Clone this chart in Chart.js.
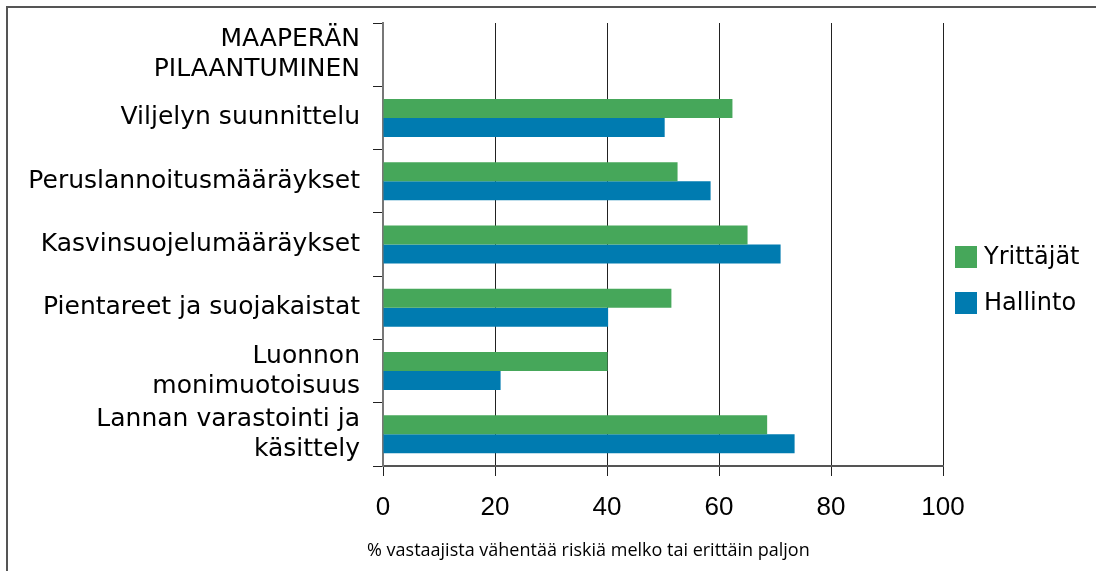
<!DOCTYPE html>
<html>
<head>
<meta charset="utf-8">
<script src="https://cdn.jsdelivr.net/npm/chart.js@4.4.1/dist/chart.umd.min.js"></script>
<style>
  html, body { margin: 0; padding: 0; background: #fff; overflow: hidden; }
  #wrap { position: relative; width: 1096px; height: 571px; }
  #frame { position: absolute; left: 6px; top: 6px; width: 2000px; height: 2000px;
           border-left: 2px solid #555; border-top: 2px solid #555; pointer-events: none; }
  canvas { position: absolute; left: 0; top: 0; }
</style>
</head>
<body>
<div id="wrap">
  <canvas id="c" width="1096" height="571"></canvas>
  <div id="frame"></div>
</div>
<script>
const categories = [
  ['MAAPERÄN', 'PILAANTUMINEN'],
  'Viljelyn suunnittelu',
  'Peruslannoitusmääräykset',
  'Kasvinsuojelumääräykset',
  'Pientareet ja suojakaistat',
  ['Luonnon', 'monimuotoisuus'],
  ['Lannan varastointi ja', 'käsittely']
];
const seriesNames = ['Yrittäjät', 'Hallinto'];
const yrittajat = [null, 62.4, 52.6, 65.1, 51.5, 40.1, 68.6];
const hallinto  = [null, 50.3, 58.5, 71.0, 40.2, 21.0, 73.5];
const xTicks = [0, 20, 40, 60, 80, 100];
const xTitle = '% vastaajista vähentää riskiä melko tai erittäin paljon';

const GREEN = 'rgb(70,167,90)';
const BLUE = 'rgb(0,123,176)';

const legendPlugin = {
  id: 'sideLegend',
  afterDraw(chart) {
    const ctx = chart.ctx;
    ctx.save();
    const ys = [246, 292];
    chart.data.datasets.forEach((ds, i) => {
      ctx.fillStyle = ds.backgroundColor;
      ctx.fillRect(955, ys[i], 22, 22);
      ctx.fillStyle = '#000';
      ctx.font = '24px "DejaVu Sans"';
      ctx.textBaseline = 'middle';
      ctx.textAlign = 'left';
      ctx.fillText(ds.label, 984, ys[i] + 12);
    });
    ctx.restore();
  }
};

const titlePlugin = {
  id: 'xTitleDraw',
  afterDraw(chart) {
    const ctx = chart.ctx;
    ctx.save();
    ctx.fillStyle = '#000';
    ctx.font = '18px "Open Sans"';
    ctx.textBaseline = 'middle';
    ctx.textAlign = 'left';
    ctx.fillText(xTitle, 367, 551);
    ctx.restore();
  }
};

new Chart(document.getElementById('c'), {
  type: 'bar',
  data: {
    labels: categories,
    datasets: [
      { label: seriesNames[0], data: yrittajat, backgroundColor: GREEN },
      { label: seriesNames[1], data: hallinto, backgroundColor: BLUE }
    ]
  },
  options: {
    indexAxis: 'y',
    responsive: false,
    animation: false,
    events: [],
    layout: { padding: { top: 23, right: 153, bottom: 0, left: 0 } },
    datasets: { bar: { barPercentage: 1.0, categoryPercentage: 0.6 } },
    plugins: { legend: { display: false }, tooltip: { enabled: false } },
    scales: {
      x: {
        min: 0, max: 100,
        afterFit(s) { s.height = 105; s.paddingLeft = 0; s.paddingRight = 0; },
        afterBuildTicks(s) { s.ticks = xTicks.map(v => ({ value: v })); },
        grid: { color: '#222', lineWidth: 1, tickLength: 10, drawTicks: true },
        border: { color: '#555', width: 2 },
        ticks: { color: '#000', padding: 16, font: { family: '"Liberation Sans"', size: 26 } }
      },
      y: {
        afterFit(s) { s.width = 383; s.paddingTop = 0; s.paddingBottom = 0; },
        grid: { drawOnChartArea: false, tickLength: 10, color: '#222', offset: true },
        border: { color: '#777', width: 2 },
        ticks: { color: '#000', padding: 13, autoSkip: false, font: { family: '"DejaVu Sans"', size: 25, lineHeight: 1.2 } }
      }
    }
  },
  plugins: [legendPlugin, titlePlugin]
});
</script>
</body>
</html>
